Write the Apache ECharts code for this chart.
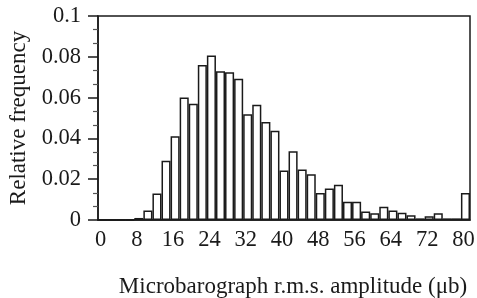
<!DOCTYPE html>
<html>
<head>
<meta charset="utf-8">
<script src="https://cdn.jsdelivr.net/npm/echarts@6/dist/echarts.min.js"></script>
<style>
  html, body { margin: 0; padding: 0; background: #fff; }
  #chart { width: 477px; height: 298px; }
</style>
</head>
<body>
<div id="chart"></div>
<script>
// bins of 2 ub, lower edge of each bin (last one is the >=80 bin)
var binStarts = [];
for (var b = 0; b <= 80; b += 2) binStarts.push(b);

// relative frequency per bin
var freqs = [
  0, 0, 0, 0,
  0.001, 0.0047, 0.013, 0.029, 0.041, 0.060, 0.057, 0.076, 0.0806, 0.0729,
  0.0724, 0.0693, 0.0518, 0.0565, 0.048, 0.0438, 0.0243, 0.0337, 0.0248, 0.0224,
  0.0132, 0.0154, 0.0173, 0.009, 0.009, 0.0042, 0.0033, 0.0065, 0.0047, 0.0036,
  0.0023, 0.0008, 0.0018, 0.0033, 0.0008, 0.0008, 0.0132
];

var xName = 'Microbarograph r.m.s. amplitude (\u03bcb)';
var yName = 'Relative frequency';

var font = '"Liberation Serif", "DejaVu Serif", serif';
var ink = '#1a1a1a';

var chart = echarts.init(document.getElementById('chart'));
var option = {
  animation: false,
  textStyle: { fontFamily: font },
  grid: {
    left: 98, right: 7, top: 16, bottom: 78,
    outerBoundsMode: 'none',
    containLabel: false,
    show: true, borderColor: ink, borderWidth: 1.5, backgroundColor: 'transparent'
  },
  xAxis: [
    {
      type: 'value',
      min: 0, max: 82, interval: 8,
      splitLine: { show: false },
      axisTick: { show: false },
      axisLine: { lineStyle: { color: ink, width: 1.5 } },
      axisLabel: {
        showMaxLabel: false,
        color: ink, fontSize: 22.5, fontFamily: font, margin: 9,
        padding: [0, 0, 0, 5]
      },
      name: xName,
      nameLocation: 'middle',
      nameGap: 55,
      nameTextStyle: { color: ink, fontSize: 23, fontFamily: font, padding: [0, 0, 0, 18] }
    },
    {
      type: 'category',
      position: 'top',
      show: false,
      boundaryGap: true,
      data: binStarts
    }
  ],
  yAxis: {
    type: 'value',
    min: 0, max: 0.1, interval: 0.02,
    splitLine: { show: false },
    axisLine: { show: true, lineStyle: { color: ink, width: 1.5 } },
    axisTick: { show: true, length: 10, lineStyle: { color: ink, width: 1.5 } },
    minorTick: { show: true, splitNumber: 3, length: 5, lineStyle: { color: '#555', width: 1.2 } },
    axisLabel: { color: ink, fontSize: 22.5, fontFamily: font, margin: 17 },
    name: yName,
    nameLocation: 'middle',
    nameGap: 63,
    nameTextStyle: { color: ink, fontSize: 23, fontFamily: font }
  },
  series: [{
    type: 'bar',
    xAxisIndex: 1,
    data: freqs,
    barCategoryGap: '0%',
    itemStyle: { color: '#fff', borderColor: ink, borderWidth: 1.5 }
  }]
};
chart.setOption(option);
</script>
</body>
</html>
